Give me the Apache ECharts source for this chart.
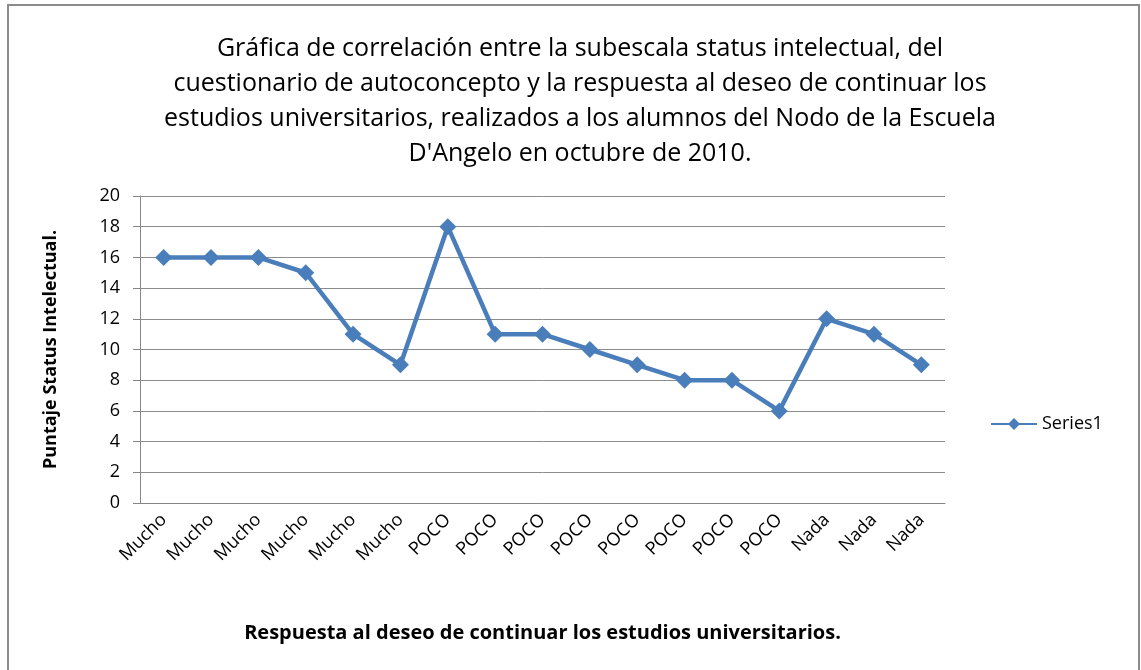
<!DOCTYPE html>
<html>
<head>
<meta charset="utf-8">
<script src="https://cdn.jsdelivr.net/npm/echarts@6/dist/echarts.min.js"></script>
<style>
    html, body { margin: 0; padding: 0; background: #fff; }
    #chart {
        width: 1141px;
        height: 670px;
    }
</style>
</head>
<body>
<div id="chart"></div>
<script>
    // categorias del eje x
    var respuestas = ['Mucho', 'Mucho', 'Mucho', 'Mucho', 'Mucho', 'Mucho',
        'POCO', 'POCO', 'POCO', 'POCO', 'POCO', 'POCO', 'POCO', 'POCO',
        'Nada', 'Nada', 'Nada'];
    // puntaje status intelectual
    var puntajes = [16, 16, 16, 15, 11, 9, 18, 11, 11, 10, 9, 8, 8, 6, 12, 11, 9];

    var fuente = '"Open Sans", "Noto Sans", sans-serif';
    var chart = echarts.init(document.getElementById('chart'));
    var option = {
        animation: false,
        graphic: [{
            type: 'rect',
            shape: { x: 8, y: 5, width: 1131, height: 670 },
            style: { fill: 'none', stroke: '#8c8c8c', lineWidth: 2 },
            silent: true
        }],
        title: {
            text: 'Gráfica de correlación entre la subescala status intelectual, del\n' +
                'cuestionario de autoconcepto y la respuesta al deseo de continuar los\n' +
                'estudios universitarios, realizados a los alumnos del Nodo de la Escuela\n' +
                'D\'Angelo en octubre de 2010.',
            left: 575,
            top: 26,
            textAlign: 'center',
            textStyle: {
                fontFamily: fuente,
                fontSize: 25,
                fontWeight: 'normal',
                color: '#000',
                lineHeight: 35
            }
        },
        legend: {
            data: ['Series1'],
            left: 985,
            top: 410,
            itemWidth: 46,
            itemHeight: 15,
            itemGap: 4,
            textStyle: { fontFamily: fuente, fontSize: 18, color: '#000' }
        },
        grid: {
            left: 140,
            right: 196,
            top: 196,
            bottom: 167
        },
        xAxis: {
            type: 'category',
            data: respuestas,
            boundaryGap: true,
            name: 'Respuesta al deseo de continuar los estudios universitarios.',
            nameLocation: 'middle',
            nameGap: 120,
            nameTextStyle: { fontFamily: fuente, fontSize: 20, fontWeight: 'bold', color: '#000' },
            axisLine: { lineStyle: { color: '#868686', width: 1 } },
            axisTick: { show: false },
            axisLabel: {
                rotate: 45,
                interval: 0,
                margin: 14,
                fontFamily: fuente,
                fontSize: 18,
                color: '#000'
            }
        },
        yAxis: {
            type: 'value',
            min: 0,
            max: 20,
            interval: 2,
            name: 'Puntaje Status Intelectual.',
            nameLocation: 'middle',
            nameGap: 80,
            nameTextStyle: { fontFamily: fuente, fontSize: 18, fontWeight: 'bold', color: '#000' },
            axisLine: { show: true, lineStyle: { color: '#868686', width: 1 } },
            axisTick: { show: true, length: 7, lineStyle: { color: '#868686' } },
            axisLabel: {
                margin: 20,
                fontFamily: fuente,
                fontSize: 18,
                color: '#000'
            },
            splitLine: { lineStyle: { color: '#8c8c8c', width: 1 } }
        },
        series: [{
            name: 'Series1',
            type: 'line',
            data: puntajes,
            symbol: 'diamond',
            symbolSize: 17,
            itemStyle: { color: '#4a7ebb' },
            lineStyle: { color: '#4a7ebb', width: 4.5 }
        }]
    };
    chart.setOption(option);
</script>
</body>
</html>
